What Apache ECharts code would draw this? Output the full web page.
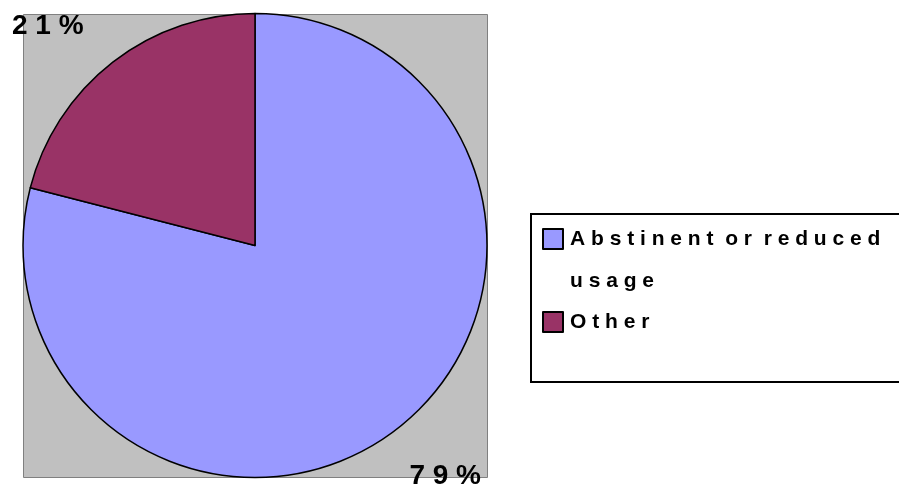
<!DOCTYPE html>
<html>
<head>
<meta charset="utf-8">
<script src="https://cdn.jsdelivr.net/npm/echarts@6/dist/echarts.min.js"></script>
<style>
  html, body { margin: 0; padding: 0; background: #fff; }
  #main { width: 899px; height: 489px; }
</style>
</head>
<body>
<div id="main"></div>
<script>
// 数据
var categories = ["Abstinent or reduced usage", "Other"];
var values = [79, 21];
var colors = ["#9999FF", "#993366"];

var FONT = "'Liberation Sans', Arial, sans-serif";

// spread letters out like the original
function spaced(str) {
  return str.split(" ").map(function (w) {
    return w.split("").join(" ");
  }).join("  ");
}

// leading empty line keeps the first line level with the icon
var legendLines = {
  "Abstinent or reduced usage": "\n" + spaced("Abstinent or reduced") + "\n" + spaced("usage"),
  "Other": spaced("Other")
};

var myChart = echarts.init(document.getElementById("main"));

var option = {
  backgroundColor: "#fff",
  animation: false,
  graphic: [
    {
      type: "rect",
      z: -10,
      shape: { x: 23.5, y: 14.5, width: 464, height: 463 },
      style: { fill: "#C0C0C0", stroke: "#808080", lineWidth: 1 }
    },
    {
      type: "rect",
      z: -10,
      shape: { x: 531, y: 214, width: 400, height: 168 },
      style: { fill: "#fff", stroke: "#000", lineWidth: 2 }
    }
  ],
  legend: {
    orient: "vertical",
    left: 542,
    top: 176,
    padding: 0,
    itemGap: -1,
    itemWidth: 20,
    itemHeight: 20,
    icon: "rect",
    formatter: function (name) {
      return legendLines[name];
    },
    textStyle: {
      fontFamily: FONT,
      fontWeight: "bold",
      fontSize: 21,
      color: "#000",
      lineHeight: 42,
      padding: [0, 0, 0, 2]
    },
    data: categories
  },
  series: [
    {
      type: "pie",
      center: [255, 245.5],
      radius: 232,
      startAngle: 90,
      clockwise: true,
      itemStyle: { borderColor: "#000", borderWidth: 1.5 },
      emphasis: { disabled: true },
      label: {
        show: true,
        position: "inside",
        overflow: "none",
        fontFamily: FONT,
        fontWeight: "bold",
        fontSize: 28,
        color: "#000",
        formatter: function (p) {
          return (Math.round(p.percent) + "%").split("").join(" ");
        }
      },
      labelLine: { show: false },
      labelLayout: function (p) {
        if (p.dataIndex === 0) {
          return { x: 481, y: 476, align: "right", verticalAlign: "middle" };
        }
        return { x: 12, y: 26, align: "left", verticalAlign: "middle" };
      },
      data: categories.map(function (c, i) {
        return { name: c, value: values[i], itemStyle: { color: colors[i] } };
      })
    }
  ]
};

myChart.setOption(option);
</script>
</body>
</html>
